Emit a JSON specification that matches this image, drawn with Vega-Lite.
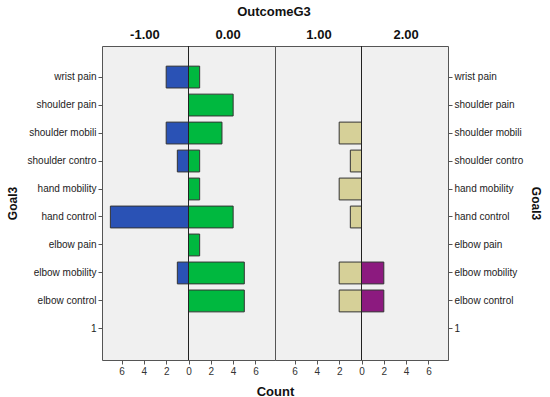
{
  "$schema": "https://vega.github.io/schema/vega-lite/v6.json",
  "background": "white",
  "padding": 5,
  "spacing": 0,
  "bounds": "flush",
  "config": {
    "font": "Liberation Sans",
    "view": {"fill": "#f0f0f0", "stroke": "#555555", "strokeWidth": 1},
    "axis": {"grid": false, "domain": false, "labelFont": "Liberation Sans", "titleFont": "Liberation Sans"}
  },
  "title": {"text": "OutcomeG3", "anchor": "middle", "fontSize": 13, "fontWeight": "bold", "font": "Liberation Sans", "color": "#111111", "offset": 9},
  "datasets": {
    "counts": [
      {"OutcomeG3": "-1.00", "Goal3": "wrist pain", "Count": 2},
      {"OutcomeG3": "-1.00", "Goal3": "shoulder mobili", "Count": 2},
      {"OutcomeG3": "-1.00", "Goal3": "shoulder contro", "Count": 1},
      {"OutcomeG3": "-1.00", "Goal3": "hand control", "Count": 7},
      {"OutcomeG3": "-1.00", "Goal3": "elbow mobility", "Count": 1},
      {"OutcomeG3": "0.00", "Goal3": "wrist pain", "Count": 1},
      {"OutcomeG3": "0.00", "Goal3": "shoulder pain", "Count": 4},
      {"OutcomeG3": "0.00", "Goal3": "shoulder mobili", "Count": 3},
      {"OutcomeG3": "0.00", "Goal3": "shoulder contro", "Count": 1},
      {"OutcomeG3": "0.00", "Goal3": "hand mobility", "Count": 1},
      {"OutcomeG3": "0.00", "Goal3": "hand control", "Count": 4},
      {"OutcomeG3": "0.00", "Goal3": "elbow pain", "Count": 1},
      {"OutcomeG3": "0.00", "Goal3": "elbow mobility", "Count": 5},
      {"OutcomeG3": "0.00", "Goal3": "elbow control", "Count": 5},
      {"OutcomeG3": "1.00", "Goal3": "shoulder mobili", "Count": 2},
      {"OutcomeG3": "1.00", "Goal3": "shoulder contro", "Count": 1},
      {"OutcomeG3": "1.00", "Goal3": "hand mobility", "Count": 2},
      {"OutcomeG3": "1.00", "Goal3": "hand control", "Count": 1},
      {"OutcomeG3": "1.00", "Goal3": "elbow mobility", "Count": 2},
      {"OutcomeG3": "1.00", "Goal3": "elbow control", "Count": 2},
      {"OutcomeG3": "2.00", "Goal3": "elbow mobility", "Count": 2},
      {"OutcomeG3": "2.00", "Goal3": "elbow control", "Count": 2}
    ],
    "center": [{"c": 0}]
  },
  "hconcat": [
    {
      "width": 173,
      "height": 314,
      "layer": [
        {
          "data": {"name": "counts"},
          "transform": [
            {"filter": "datum.OutcomeG3 == '-1.00' || datum.OutcomeG3 == '0.00'"},
            {"calculate": "datum.OutcomeG3 == '-1.00' ? -datum.Count : datum.Count", "as": "signed"}
          ],
          "mark": {"type": "bar", "stroke": "#333333", "strokeWidth": 1},
          "encoding": {
            "y": {
              "field": "Goal3", "type": "nominal",
              "scale": {"domain": ["wrist pain", "shoulder pain", "shoulder mobili", "shoulder contro", "hand mobility", "hand control", "elbow pain", "elbow mobility", "elbow control", "1"], "paddingInner": 0.22, "paddingOuter": 0.72},
              "axis": {"orient": "left", "title": "Goal3", "titleFontSize": 12, "titleFontWeight": "bold", "titleColor": "#111111", "labelFontSize": 10, "labelColor": "#222222", "tickSize": 4, "tickColor": "#555555", "labelPadding": 2, "titlePadding": 8}
            },
            "x": {
              "field": "signed", "type": "quantitative",
              "scale": {"domain": [-7.75, 7.75], "nice": false, "zero": false},
              "axis": {"orient": "bottom", "values": [-6, -4, -2, 0, 2, 4, 6], "labelExpr": "abs(datum.value)", "tickSize": 4, "tickColor": "#555555", "labelFontSize": 10, "labelColor": "#333333", "title": "Count", "titleFontSize": 13, "titleFontWeight": "bold", "titleColor": "#111111", "titleX": 173, "titleY": 35, "titleAlign": "center", "titleBaseline": "alphabetic"}
            },
            "color": {
              "field": "OutcomeG3", "type": "nominal",
              "scale": {"domain": ["-1.00", "0.00", "1.00", "2.00"], "range": ["#2a52b5", "#00b83f", "#d6d098", "#8c1a7f"]},
              "legend": null
            }
          }
        },
        {
          "data": {"name": "center"},
          "mark": {"type": "rule", "color": "#222222", "strokeWidth": 1},
          "encoding": {
            "x": {
              "field": "c", "type": "quantitative",
              "scale": {"domain": [-7.75, 7.75], "nice": false, "zero": false},
              "axis": {"orient": "top", "values": [-3.95, 3.5], "labelExpr": "datum.value < 0 ? '-1.00' : '0.00'", "ticks": false, "labelFontSize": 13, "labelFontWeight": "bold", "labelColor": "#111111", "labelPadding": 5, "title": null}
            }
          }
        }
      ],
      "resolve": {"axis": {"x": "independent"}}
    },
    {
      "width": 173,
      "height": 314,
      "layer": [
        {
          "data": {"name": "counts"},
          "transform": [
            {"filter": "datum.OutcomeG3 == '1.00' || datum.OutcomeG3 == '2.00'"},
            {"calculate": "datum.OutcomeG3 == '1.00' ? -datum.Count : datum.Count", "as": "signed"}
          ],
          "mark": {"type": "bar", "stroke": "#333333", "strokeWidth": 1},
          "encoding": {
            "y": {
              "field": "Goal3", "type": "nominal",
              "scale": {"domain": ["wrist pain", "shoulder pain", "shoulder mobili", "shoulder contro", "hand mobility", "hand control", "elbow pain", "elbow mobility", "elbow control", "1"], "paddingInner": 0.22, "paddingOuter": 0.72},
              "axis": {"orient": "right", "title": "Goal3", "titleFontSize": 12, "titleFontWeight": "bold", "titleColor": "#111111", "labelFontSize": 10, "labelColor": "#222222", "tickSize": 4, "tickColor": "#555555", "labelPadding": 2, "titlePadding": 6}
            },
            "x": {
              "field": "signed", "type": "quantitative",
              "scale": {"domain": [-7.75, 7.75], "nice": false, "zero": false},
              "axis": {"orient": "bottom", "values": [-6, -4, -2, 0, 2, 4, 6], "labelExpr": "abs(datum.value)", "tickSize": 4, "tickColor": "#555555", "labelFontSize": 10, "labelColor": "#333333", "title": null}
            },
            "color": {
              "field": "OutcomeG3", "type": "nominal",
              "scale": {"domain": ["-1.00", "0.00", "1.00", "2.00"], "range": ["#2a52b5", "#00b83f", "#d6d098", "#8c1a7f"]},
              "legend": null
            }
          }
        },
        {
          "data": {"name": "center"},
          "mark": {"type": "rule", "color": "#222222", "strokeWidth": 1},
          "encoding": {
            "x": {
              "field": "c", "type": "quantitative",
              "scale": {"domain": [-7.75, 7.75], "nice": false, "zero": false},
              "axis": {"orient": "top", "values": [-3.85, 3.95], "labelExpr": "datum.value < 0 ? '1.00' : '2.00'", "ticks": false, "labelFontSize": 13, "labelFontWeight": "bold", "labelColor": "#111111", "labelPadding": 5, "title": null}
            }
          }
        }
      ],
      "resolve": {"axis": {"x": "independent"}}
    }
  ]
}
